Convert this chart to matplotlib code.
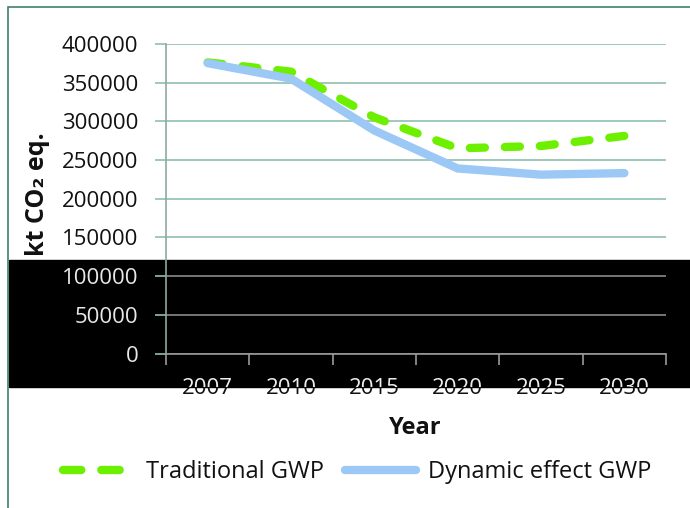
import matplotlib
matplotlib.use('Agg')
import matplotlib.pyplot as plt
from matplotlib.patches import Rectangle
from matplotlib.transforms import Bbox
from matplotlib.lines import Line2D

# data
years = ['2007', '2010', '2015', '2020', '2025', '2030']
traditional = [376000, 364000, 305000, 265000, 268000, 281000]
dynamic = [375000, 355000, 288000, 239000, 231000, 233000]
yticks = [0, 50000, 100000, 150000, 200000, 250000, 300000, 350000, 400000]

plt.rcParams['font.family'] = ['Open Sans', 'DejaVu Sans']

W, H = 690, 508
fig = plt.figure(figsize=(6.9, 5.08), dpi=100)

# black band across the middle of the picture
fig.add_artist(Rectangle((9 / W, 1 - 387 / H), 1, 127 / H, transform=fig.transFigure,
                         color='black', zorder=-2))
# teal outer frame
fig.add_artist(Rectangle((8 / W, -0.1), 1, 1 - 7 / H + 0.1, transform=fig.transFigure,
                         fill=False, ec='#3f8070', lw=1.2, zorder=-1))

ax = fig.add_axes([166 / W, 1 - 353.5 / H, 500 / W, 309.7 / H])
ax.set_facecolor('none')

x = range(len(years))
ax.plot(x, traditional, color='#6cf000', lw=6, ls=(0, (1.8, 2.4)), dash_capstyle='round',
        zorder=3)
ax.plot(x, dynamic, color='#9cc8f5', lw=6, solid_capstyle='round', solid_joinstyle='round',
        zorder=4)

ax.set_xlim(-0.5, 5.5)
ax.set_ylim(0, 400000)
ax.set_yticks(yticks)
ax.set_yticklabels([str(v) for v in yticks])
ax.yaxis.grid(True, color='#8fc0b0', lw=1.2)
ax.set_axisbelow(True)
for s in ['top', 'right']:
    ax.spines[s].set_visible(False)
ax.spines['left'].set_color('#8fa89f')
ax.spines['left'].set_linewidth(1.2)
ax.spines['bottom'].set_color('#999999')
ax.spines['bottom'].set_linewidth(1.2)

ax.set_xticks(list(x))
ax.set_xticklabels(years)
ax.set_xticks([i - 0.5 for i in range(len(years) + 1)], minor=True)
ax.tick_params(axis='x', which='major', length=0, pad=18, labelsize=16, labelcolor='#111111')
ax.tick_params(axis='x', which='minor', length=8, color='#999999', width=1.2)
ax.tick_params(axis='y', length=8, color='#8fc0b0', width=1.2, pad=12, labelsize=16,
               labelcolor='#111111')

for tick, val in zip(ax.yaxis.get_major_ticks(), yticks):
    if val <= 100000:
        tick.gridline.set_color('#8a8a8a')
        tick.tick1line.set_color('#8a8a8a')
        tick.label1.set_color('#e8e8e8')

fig.canvas.draw()
# light copies of the year labels, only visible inside the black band
clip = Bbox.from_extents(9, H - 387, W, H - 260)
for lbl in ax.get_xticklabels():
    px, py = lbl.get_position()
    t = fig.text(px, py, lbl.get_text(), transform=lbl.get_transform(),
                 ha=lbl.get_ha(), va=lbl.get_va(), fontsize=16, color='#eeeeee')
    t.set_clip_box(clip)
    t.set_clip_on(True)

fig.text(415 / W, 1 - 428 / H, 'Year', ha='center', va='center', fontsize=17,
         fontweight='bold', color='#111111')
fig.text(38 / W, 1 - 194 / H, 'kt CO₂ eq.', rotation=90, ha='center', va='center',
         fontsize=18, fontweight='bold', color='#111111')

handles = [Line2D([], [], color='#6cf000', lw=6, ls=(0, (2.2, 2.4)), dash_capstyle='round'),
           Line2D([], [], color='#9cc8f5', lw=6, solid_capstyle='round')]
fig.legend(handles, ['Traditional GWP', 'Dynamic effect GWP'], loc='center',
           bbox_to_anchor=(357 / W, 1 - 472 / H), ncol=2, frameon=False, fontsize=17,
           handlelength=3.0, columnspacing=0.9, handletextpad=0.5, labelcolor='#111111')

fig.savefig('out.png', dpi=100)
